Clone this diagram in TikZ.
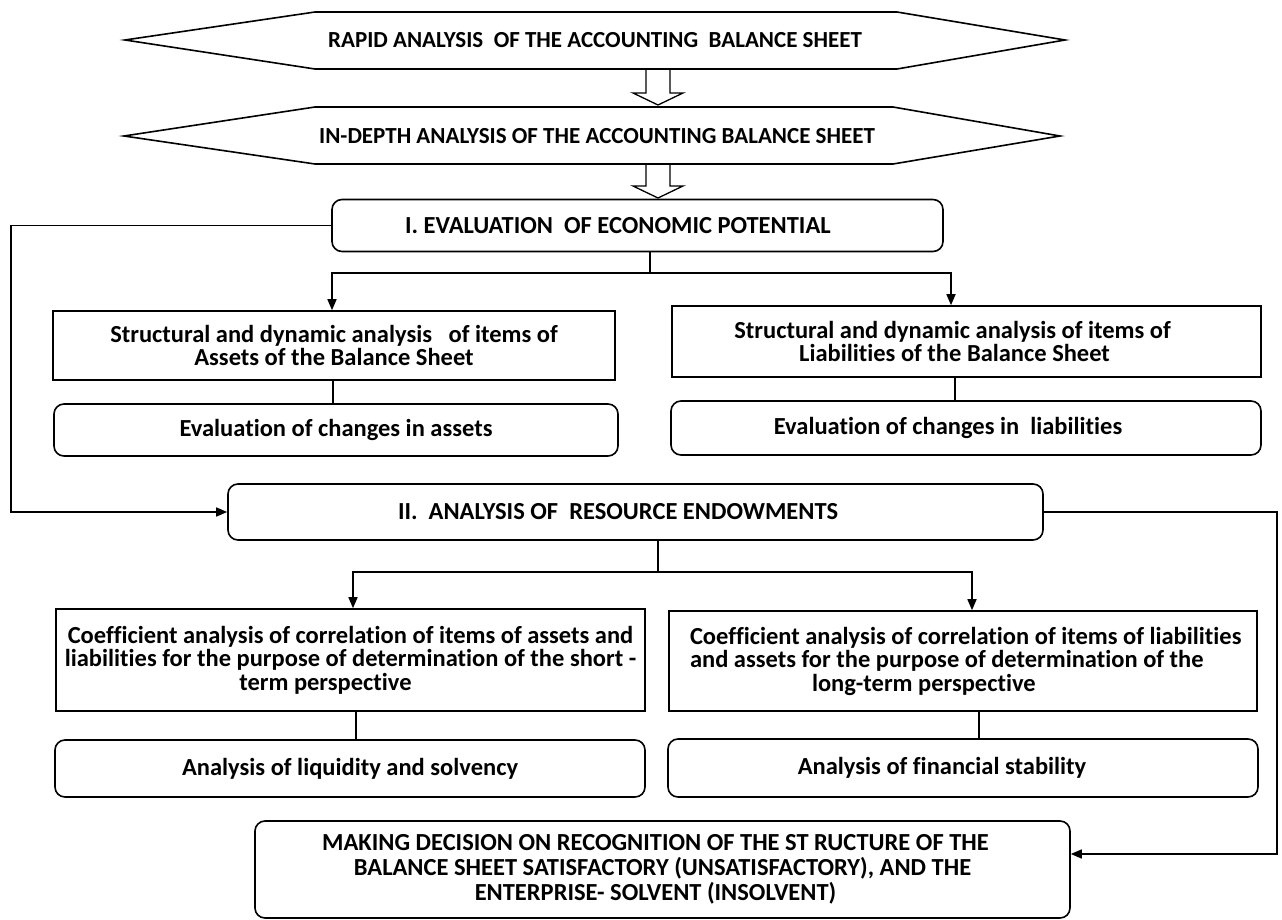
\documentclass[tikz,border=0pt]{standalone}
\usepackage{fontspec}
\setmainfont[Ligatures={NoCommon}]{Carlito}
\usetikzlibrary{arrows.meta}
\begin{document}
\begin{tikzpicture}[x=1pt,y=-1pt,
  txt/.style={font=\bfseries\fontsize{24.5}{23.5}\selectfont, inner sep=0pt},
  hextxt/.style={font=\bfseries\fontsize{23}{26}\selectfont, inner sep=0pt},
  box/.style={txt, draw, line width=1.6pt, align=center},
  rbox/.style={box, rounded corners=10pt},
  outline/.style={draw, line width=1.6pt, line join=miter},
  conn/.style={line width=1.6pt},
  thinconn/.style={line width=1.1pt},
  arr/.style={conn, -{Triangle[length=11pt,width=9pt]}}]
\useasboundingbox (0,0) rectangle (1282,920);

% hexagons
\draw[outline] (125,40) -- (315,12) -- (897,12) -- (1065,40) -- (897,69) -- (315,69) -- cycle;
\node[hextxt] (h1) at (595,40) {RAPID ANALYSIS\ \ OF THE ACCOUNTING\ \ BALANCE SHEET};
\draw[outline] (124,136) -- (315,107) -- (893,107) -- (1060,136) -- (893,164) -- (315,164) -- cycle;
\node[hextxt] (h2) at (597,136) {IN-DEPTH ANALYSIS OF THE ACCOUNTING BALANCE SHEET};

% block arrows
\draw[outline, line width=1.3pt] (646,69) -- (646,93) -- (633,93) -- (658,105) -- (683,93) -- (670,93) -- (670,69);
\draw[outline, line width=1.3pt] (646,164) -- (646,186) -- (633,186) -- (658,198) -- (683,186) -- (670,186) -- (670,164);

% stage I
\node[rbox, minimum width=611pt, minimum height=52pt, text width=465pt, align=flush left] (e1) at (637.5,225.5) {I. EVALUATION\ \ OF ECONOMIC POTENTIAL};
\node[box, minimum width=562pt, minimum height=69pt] (a) at (334,345.5) {Structural and dynamic analysis\ \ \ of items of\\Assets of the Balance Sheet};
\node[rbox, minimum width=564pt, minimum height=52pt] (ap) at (336,430) {Evaluation of changes in assets};
\node[box, minimum width=589pt, minimum height=71pt] (b) at (966.5,341.5) {Structural and dynamic analysis of items of\hspace*{28pt}\\Liabilities of the Balance Sheet\hspace*{24pt}};
\node[rbox, minimum width=590pt, minimum height=54pt] (bp) at (966,428) {Evaluation of changes in\ \ liabilities\hspace*{36pt}};

% stage II
\node[rbox, minimum width=815pt, minimum height=56pt, text width=475pt, align=flush left] (e2) at (635.5,512) {II.\ \ ANALYSIS OF\ \ RESOURCE ENDOWMENTS};
\node[box, minimum width=589pt, minimum height=102pt] (c) at (350.5,660) {Coefficient analysis of correlation of items of assets and\\liabilities for the purpose of determination of the short -\\term perspective\hspace*{50pt}};
\node[box, minimum width=588pt, minimum height=100pt, text width=580pt, align=flush left] (d) at (963,661) {\hspace*{17pt}Coefficient analysis of correlation of items of liabilities\\\hspace*{17pt}and assets for the purpose of determination of the\\\hspace*{139pt}long-term perspective};
\node[rbox, minimum width=590pt, minimum height=57pt] (cp) at (350,768.5) {Analysis of liquidity and solvency};
\node[rbox, minimum width=590pt, minimum height=58pt] (dp) at (963,768) {Analysis of financial stability\hspace*{42pt}};

% decision
\node[rbox, minimum width=815pt, minimum height=97pt, font=\bfseries\fontsize{24.5}{25}\selectfont] (e) at (662.5,869.5) {MAKING DECISION ON RECOGNITION OF THE ST RUCTURE OF THE\hspace*{14pt}\\BALANCE SHEET SATISFACTORY (UNSATISFACTORY), AND THE\hspace*{14pt}\\ENTERPRISE- SOLVENT (INSOLVENT)\hspace*{14pt}};

% connectors
\coordinate (L1) at (11,225.5);
\coordinate (L2) at (11,512);
\draw[arr] (e1.west) -- (L1) -- (L2) -- (e2.west);

\coordinate (s1) at (650,273);
\draw[conn] (e1.south -| s1) -- (s1);
\draw[arr] (s1) -| ([xshift=-2pt]a.north);
\draw[arr] (s1) -| ([xshift=-15.5pt]b.north);
\draw[thinconn] ([xshift=-1pt]a.south) -- ([xshift=-1pt]a.south |- ap.north);
\draw[thinconn] ([xshift=-11.5pt]b.south) -- ([xshift=-11.5pt]b.south |- bp.north);

\coordinate (s2) at (658,572);
\draw[thinconn] (e2.south -| s2) -- (s2);
\draw[arr] (s2) -| ([xshift=2.5pt]c.north);
\draw[arr] (s2) -| ([xshift=9pt]d.north);
\draw[thinconn] ([xshift=5.5pt]c.south) -- ([xshift=5.5pt]c.south |- cp.north);
\draw[thinconn] ([xshift=16pt]d.south) -- ([xshift=16pt]d.south |- dp.north);

\coordinate (R1) at (1277,512);
\coordinate (R2) at (1277,854);
\draw[arr] (e2.east) -- (R1) -- (R2) -- (e.east |- R2);
\end{tikzpicture}
\end{document}
